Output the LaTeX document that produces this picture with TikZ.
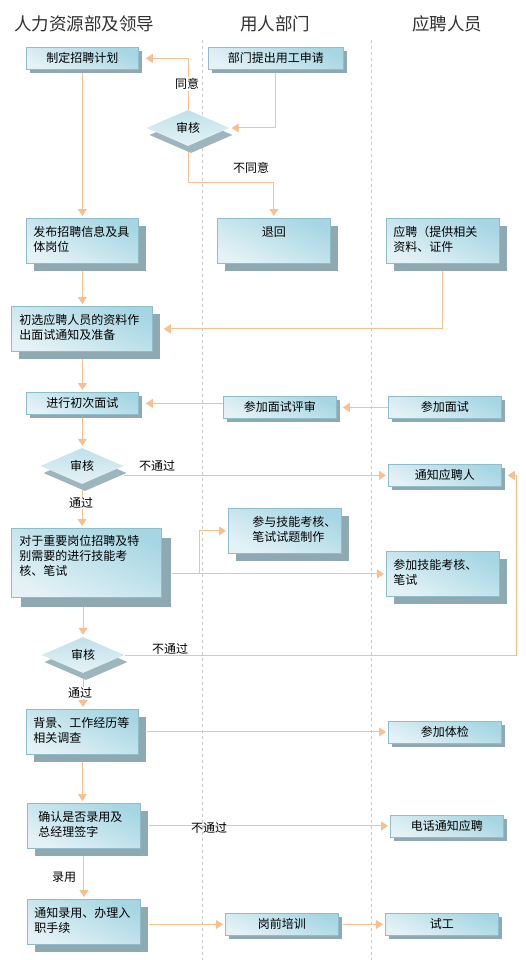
\documentclass[tikz,border=0pt]{standalone}
\usepackage{fontspec}
\setmainfont{Noto Sans CJK SC}
\usetikzlibrary{arrows.meta,shadows,shapes.geometric,backgrounds}
\definecolor{kastenoben}{HTML}{A6D6E3}
\definecolor{kastenunten}{HTML}{E4F2F6}
\definecolor{rahmen}{HTML}{8DBDCB}
\definecolor{schattengrau}{HTML}{8FA9B2}
\definecolor{rautenoben}{HTML}{BFE0EA}
\definecolor{rautenunten}{HTML}{E6F3F6}
\definecolor{rautenschatten}{HTML}{9DB5BD}
\definecolor{pfeilfarbe}{HTML}{FBBF8D}
\definecolor{bahngrau}{HTML}{CACACA}
\definecolor{kopfgrau}{HTML}{303030}
\tikzset{schatten/.style={drop shadow={shadow xshift=#1pt,shadow yshift=-#1pt,
      fill=schattengrau,opacity=1}},
  kasten/.style={rectangle,anchor=north west,draw=rahmen,line width=0.8pt,
    top color=kastenoben,bottom color=kastenunten,shading angle=-25,
    inner xsep=7pt,inner ysep=4pt,align=left,
    font=\fontsize{12}{15}\selectfont},
  klein/.style={kasten,schatten=4,align=center,text height=11.5pt,text depth=2.5pt},
  mittel/.style={kasten,schatten=8,text height=14pt,text depth=23pt},
  gross/.style={kasten,schatten=10,text height=13pt,text depth=48pt},
  raute/.style={diamond,aspect=2.3,minimum width=83pt,minimum height=36pt,
    inner sep=0pt,top color=rautenoben,bottom color=rautenunten,
    font=\fontsize{12}{15}\selectfont,
    drop shadow={shadow xshift=3pt,shadow yshift=-7pt,fill=rautenschatten,opacity=1}},
  pfeil/.style={pfeilfarbe,line width=1pt,shorten >=2pt,
    -{Triangle[length=7pt,width=9pt]}},
  bahn/.style={bahngrau,line width=0.7pt,dash pattern=on 3pt off 3pt},
  kopf/.style={font=\fontsize{17.5}{20}\selectfont,text=kopfgrau},
  marke/.style={font=\fontsize{12}{14}\selectfont,inner sep=1pt}}

\begin{document}
\begin{tikzpicture}[x=1pt,y=-1pt]
\useasboundingbox (0,0) rectangle (526,960);
% Spaltenkoepfe
\node[kopf] (kopfhr) at (84,24) {人力资源部及领导};
\node[kopf] (kopfabt) at (275,24) {用人部门};
\node[kopf] (kopfbew) at (447,24) {应聘人员};

% Kaesten
\node[klein,text width=98pt] (plan) at (26,47) {制定招聘计划};
\node[klein,text width=121pt] (antrag) at (208,47) {部门提出用工申请};
\node[raute] (pruef1) at (188,128) {审核};
\node[mittel,text width=98pt] (ausschreibung) at (26,218) {发布招聘信息及具\\体岗位};
\node[mittel,text width=99pt,align=center] (rueck) at (217,218) {退回};
\node[mittel,text width=99pt] (bewerbung) at (386,218) {应聘（提供相关\\资料、证件};
\node[mittel,text width=125pt,inner xsep=8pt] (vorauswahl) at (11,306) {初选应聘人员的资料作\\出面试通知及准备};
\node[klein,text width=98pt] (gespraech) at (26,392) {进行初次面试};
\node[klein,text width=99pt] (bewertung) at (223,396) {参加面试评审};
\node[klein,text width=99pt] (teilnahme) at (388,396) {参加面试};
\node[raute] (pruef2) at (82,466) {审核};
\node[klein,text width=99pt] (mitteilung) at (388,464) {通知应聘人};
\node[mittel,text width=99pt] (aufgaben) at (228,508) {\hspace*{17pt}参与技能考核、\\\hspace*{17pt}笔试试题制作};
\node[gross,text width=134pt,inner xsep=8pt] (test) at (11,528) {对于重要岗位招聘及特\\别需要的进行技能考\\核、笔试};
\node[mittel,text width=99pt] (pruefteil) at (386,551) {参加技能考核、\\笔试};
\node[raute] (pruef3) at (83,655) {审核};
\node[mittel,text width=98pt] (hintergrund) at (26,709) {背景、工作经历等\\相关调查};
\node[klein,text width=99pt] (arzt) at (388,721) {参加体检};
\node[mittel,text width=91pt,inner xsep=11pt] (zusage) at (27,803) {确认是否录用及\\总经理签字};
\node[klein,text width=99pt] (telefon) at (390,815) {电话通知应聘};
\node[mittel,text width=99pt] (einstellung) at (27,899) {通知录用、办理入\\职手续};
\node[klein,text width=99pt] (schulung) at (225,913) {岗前培训};
\node[klein,text width=99pt] (probe) at (385,913) {试工};

% Beschriftungen
\node[marke,fill=white] (ja1) at (187,84) {同意};
\node[marke] (nein1) at (251,168) {不同意};
\node[marke] (nein2) at (157,466) {不通过};
\node[marke,fill=white] (ja2) at (81,503) {通过};
\node[marke] (nein3) at (170,649) {不通过};
\node[marke,fill=white] (ja3) at (80,693) {通过};
\node[marke] (nein4) at (209,828) {不通过};
\node[marke] (ja4) at (64,877) {录用};

\coordinate (abzweig) at (199,573);
\coordinate (rand) at (516,655);

\begin{scope}[on background layer]
\draw[bahn] (202,40) -- (202,960) (371,40) -- (371,960);
\draw[pfeil] (antrag.south) |- (pruef1.east);
\draw[pfeil] (pruef1.north) |- ([xshift=5]plan.east);
\draw[pfeil] (pruef1.south) -- ++(0,36) -| (rueck.north);
\draw[pfeil] (plan.south) -- (ausschreibung.north);
\draw[pfeil] (ausschreibung.south) -- (ausschreibung.south |- vorauswahl.north);
\draw[pfeil] (bewerbung.south) |- ([xshift=9]vorauswahl.east);
\draw[pfeil] (vorauswahl.south -| gespraech.south) -- (gespraech.north);
\draw[pfeil] (teilnahme.west) -- ([xshift=4]bewertung.east);
\draw[pfeil] (bewertung.west |- gespraech.east) -- ([xshift=5]gespraech.east);
\draw[pfeil] (gespraech.south) -- (gespraech.south |- pruef2.north);
\draw[pfeil] (pruef2.east |- mitteilung.west) -- (mitteilung.west);
\draw[pfeil] (pruef2.south) -- (pruef2.south |- test.north);
\draw[pfeil] ([xshift=10]test.east |- pruefteil.west) -- (pruefteil.west);
\draw[pfeil] (abzweig) |- (aufgaben.west);
\draw[pfeil] (test.south -| pruef3.north) -- (pruef3.north);
\draw[pfeil] (pruef3.east) -- (rand) |- ([xshift=4]mitteilung.east);
\draw[pfeil] (pruef3.south) -- (pruef3.south |- hintergrund.north);
\draw[pfeil] ([xshift=8]hintergrund.east) -- (hintergrund.east -| arzt.west);
\draw[pfeil] (hintergrund.south) -- (hintergrund.south |- zusage.north);
\draw[pfeil] ([xshift=8]zusage.east) -- (zusage.east -| telefon.west);
\draw[pfeil] (zusage.south) -- (einstellung.north);
\draw[pfeil] ([xshift=8]einstellung.east |- schulung.west) -- (schulung.west);
\draw[pfeil] ([xshift=4]schulung.east) -- (probe.west);
\end{scope}
\end{tikzpicture}
\end{document}
